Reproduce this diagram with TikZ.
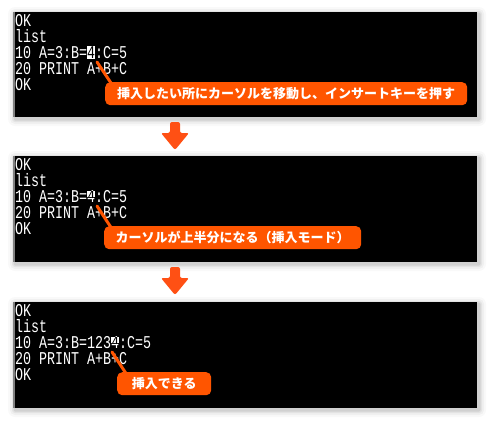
\documentclass[tikz,border=0pt]{standalone}
\usepackage{fontspec}
\usepackage{graphicx}
\newfontfamily\monofont{Liberation Mono}
\newfontfamily\jpfont{Noto Sans CJK JP}
\definecolor{callout}{HTML}{FF5500}
\definecolor{arrowc}{HTML}{FF5014}
\newcommand\stretchy[1]{\scalebox{1}[1.35]{#1}}
\newcommand\termlines[1]{\scalebox{1}[1.35]{\vtop{\baselineskip=11.852pt\lineskiplimit=-100pt\lineskip=0pt #1}}}
\newcommand\fullcursor[1]{{\fboxsep=0pt\colorbox{white}{\rule[-0.74pt]{0pt}{8.9pt}\textcolor{black}{#1}}}}
\newcommand\myshadow[4]{%
  \foreach \d/\o in {7/0.025,5/0.035,3/0.05,1.5/0.08}{%
    \fill[black,opacity=\o,rounded corners=\d pt] (#1-\d+2,#2-\d+2) rectangle (#3+\d+2,#4+\d+2);}}
\begin{document}
\begin{tikzpicture}[x=1pt,y=-1pt,
  term/.style={anchor=base west,inner sep=0pt,text=white,font=\monofont\fontsize{13.33}{16}\selectfont},
  termblack/.style={term,text=black},
  panel/.style={fill=black},
  calloutbox/.style={fill=callout,rounded corners=5pt,anchor=north west,inner sep=0pt,text=white,
    font=\jpfont\bfseries\fontsize{13}{15}\selectfont},
  pointer/.style={draw=callout,line width=3pt,line cap=round},
  downarrow/.style={fill=arrowc,rounded corners=2pt}]
\useasboundingbox (0,0) rectangle (489,421);
\fill[white] (0,0) rectangle (489,421);
% shadows
\myshadow{13}{12}{477}{117}
\myshadow{13}{156}{477}{262}
\myshadow{13}{302}{477}{408}
% panels
\fill[panel] (13,12) rectangle (477,117);
\fill[panel] (13,156) rectangle (477,262);
\fill[panel] (13,302) rectangle (477,408);
\draw[gray,line width=1.5pt] (13.75,12) -- (13.75,117);
\draw[gray,line width=1.5pt] (13.75,156) -- (13.75,262);
\draw[gray,line width=1.5pt] (13.75,302) -- (13.75,408);
% ---- panel 1 text
\node[term] (a) at (15,26) {\termlines{\hbox{OK}\hbox{list}\hbox{10 A=3:B=\fullcursor{4}:C=5}\hbox{20 PRINT A+B+C}\hbox{OK}}};
% ---- panel 2 text
\node[term] (b) at (15,170) {\termlines{\hbox{OK}\hbox{list}\hbox{10 A=3:B=4:C=5}\hbox{20 PRINT A+B+C}\hbox{OK}}};
\fill[white] (87,191) rectangle (95,197);
\begin{scope}
  \clip (87,191) rectangle (95,197);
  \node[termblack] (b3c) at (87,202) {\stretchy{4}};
\end{scope}
% ---- panel 3 text
\node[term] (d) at (15,316) {\termlines{\hbox{OK}\hbox{list}\hbox{10 A=3:B=1234:C=5}\hbox{20 PRINT A+B+C}\hbox{OK}}};
\fill[white] (111,337) rectangle (119,343);
\begin{scope}
  \clip (111,337) rectangle (119,343);
  \node[termblack] (d3c) at (111,348) {\stretchy{4}};
\end{scope}
% ---- arrows between panels
\fill[downarrow] (170,122) -- (180,122) -- (180,133) -- (189,133) -- (175,150) -- (161,133) -- (170,133) -- cycle;
\fill[downarrow] (170,267) -- (180,267) -- (180,278) -- (189,278) -- (175,295) -- (161,278) -- (170,278) -- cycle;
% ---- pointers
\coordinate (k1) at (97,62);
\coordinate (k1e) at (113,86);
\coordinate (k2) at (97,206);
\coordinate (k2e) at (112,229);
\coordinate (k3) at (112,352);
\coordinate (k3e) at (127,375);
\draw[pointer] (k1) -- (k1e);
\draw[pointer] (k2) -- (k2e);
\draw[pointer] (k3) -- (k3e);
% ---- callouts
\node[calloutbox,minimum width=362pt,minimum height=23pt] (c1) at (105,82)
  {挿入したい所にカーソルを移動し、インサートキーを押す};
\node[calloutbox,minimum width=257pt,minimum height=23pt] (c2) at (104,226)
  {カーソルが上半分になる（挿入モード）};
\node[calloutbox,minimum width=94pt,minimum height=23pt] (c3) at (117,372)
  {挿入できる};
\end{tikzpicture}
\end{document}
